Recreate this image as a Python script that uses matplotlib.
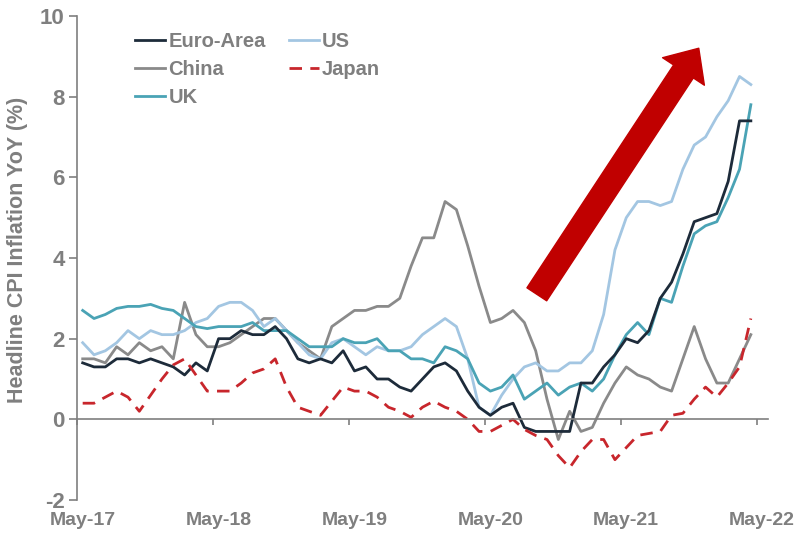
import matplotlib.pyplot as plt
from matplotlib.patches import FancyArrowPatch
from matplotlib.transforms import ScaledTranslation

plt.rcParams["font.family"] = ["Liberation Sans", "DejaVu Sans"]
plt.rcParams["font.weight"] = "bold"
plt.rcParams["axes.unicode_minus"] = False

# monthly headline CPI, YoY %, May-17 .. Apr-22
months = list(range(60))
year_labels = ["May-17", "May-18", "May-19", "May-20", "May-21", "May-22"]

euro_area = [1.4, 1.3, 1.3, 1.5, 1.5, 1.4, 1.5, 1.4, 1.3, 1.1, 1.4, 1.2,
             2.0, 2.0, 2.2, 2.1, 2.1, 2.3, 2.0, 1.5, 1.4, 1.5, 1.4, 1.7,
             1.2, 1.3, 1.0, 1.0, 0.8, 0.7, 1.0, 1.3, 1.4, 1.2, 0.7, 0.3,
             0.1, 0.3, 0.4, -0.2, -0.3, -0.3, -0.3, -0.3, 0.9, 0.9, 1.3, 1.6,
             2.0, 1.9, 2.2, 3.0, 3.4, 4.1, 4.9, 5.0, 5.1, 5.9, 7.4, 7.4]
us = [1.9, 1.6, 1.7, 1.9, 2.2, 2.0, 2.2, 2.1, 2.1, 2.2, 2.4, 2.5,
      2.8, 2.9, 2.9, 2.7, 2.3, 2.5, 2.2, 1.9, 1.6, 1.5, 1.9, 2.0,
      1.8, 1.6, 1.8, 1.7, 1.7, 1.8, 2.1, 2.3, 2.5, 2.3, 1.5, 0.3,
      0.1, 0.6, 1.0, 1.3, 1.4, 1.2, 1.2, 1.4, 1.4, 1.7, 2.6, 4.2,
      5.0, 5.4, 5.4, 5.3, 5.4, 6.2, 6.8, 7.0, 7.5, 7.9, 8.5, 8.3]
china = [1.5, 1.5, 1.4, 1.8, 1.6, 1.9, 1.7, 1.8, 1.5, 2.9, 2.1, 1.8,
         1.8, 1.9, 2.1, 2.3, 2.5, 2.5, 2.2, 1.9, 1.7, 1.5, 2.3, 2.5,
         2.7, 2.7, 2.8, 2.8, 3.0, 3.8, 4.5, 4.5, 5.4, 5.2, 4.3, 3.3,
         2.4, 2.5, 2.7, 2.4, 1.7, 0.5, -0.5, 0.2, -0.3, -0.2, 0.4, 0.9,
         1.3, 1.1, 1.0, 0.8, 0.7, 1.5, 2.3, 1.5, 0.9, 0.9, 1.5, 2.1]
japan = [0.4, 0.4, 0.55, 0.7, 0.55, 0.2, 0.6, 1.0, 1.35, 1.5, 1.1, 0.7,
         0.7, 0.7, 0.9, 1.15, 1.25, 1.5, 0.8, 0.3, 0.2, 0.1, 0.45, 0.8,
         0.7, 0.7, 0.55, 0.3, 0.2, 0.05, 0.3, 0.45, 0.3, 0.2, 0.0, -0.3,
         -0.3, -0.15, 0.0, -0.25, -0.4, -0.5, -0.9, -1.2, -0.8, -0.5, -0.5, -1.0,
         -0.7, -0.4, -0.35, -0.3, 0.1, 0.15, 0.5, 0.8, 0.55, 0.9, 1.3, 2.5]
uk = [2.7, 2.5, 2.6, 2.75, 2.8, 2.8, 2.85, 2.75, 2.7, 2.5, 2.3, 2.25,
      2.3, 2.3, 2.3, 2.4, 2.2, 2.2, 2.2, 2.0, 1.8, 1.8, 1.8, 2.0,
      1.9, 1.9, 2.0, 1.7, 1.7, 1.5, 1.5, 1.4, 1.8, 1.7, 1.5, 0.9,
      0.7, 0.8, 1.1, 0.5, 0.7, 0.9, 0.6, 0.8, 0.9, 0.7, 1.0, 1.6,
      2.1, 2.4, 2.1, 3.0, 2.9, 3.8, 4.6, 4.8, 4.9, 5.5, 6.2, 7.8]

grey = "#7f7f7f"

fig = plt.figure(figsize=(7.99, 5.38), dpi=100)
ax = fig.add_axes([0.0964, 0.0706, 0.8646, 0.8997])

lw = 2.0
l_china, = ax.plot(months, china, color="#8a8a8a", lw=lw, label="China")
l_us, = ax.plot(months, us, color="#a3c6e2", lw=lw, label="US")
l_uk, = ax.plot(months, uk, color="#4aa3b5", lw=lw, label="UK")
l_euro, = ax.plot(months, euro_area, color="#1d2b3a", lw=lw, label="Euro-Area")
l_japan, = ax.plot(months, japan, color="#c8262c", lw=lw,
                   dashes=(4.5, 3), label="Japan")

ax.set_xlim(-0.5, 60.5)
ax.set_ylim(-2, 10)
ax.set_yticks([-2, 0, 2, 4, 6, 8, 10])
ax.set_xticks([12 * k - 0.5 for k in range(len(year_labels))])
ax.set_xticklabels(year_labels)

for side in ["top", "right"]:
    ax.spines[side].set_visible(False)
ax.spines["bottom"].set_position(("data", 0))
for side in ["left", "bottom"]:
    ax.spines[side].set_color(grey)
    ax.spines[side].set_linewidth(1.2)

ax.tick_params(axis="y", colors=grey, labelsize=16, length=6, width=1.2, pad=3)
ax.tick_params(axis="x", colors=grey, labelsize=14, length=4, width=1.2, pad=63)
shift = ScaledTranslation(4 / 72, 0, fig.dpi_scale_trans)
for lab in ax.get_xticklabels():
    lab.set_transform(lab.get_transform() + shift)

fig.text(0.0225, 0.535, "Headline CPI Inflation YoY (%)", rotation=90,
         ha="center", va="center", color=grey, fontsize=15.5)

ax.legend([l_euro, l_china, l_uk, l_us, l_japan],
          ["Euro-Area", "China", "UK", "US", "Japan"],
          ncol=2, loc="upper left", bbox_to_anchor=(0.169, 0.94),
          bbox_transform=fig.transFigure, frameon=False, fontsize=14.5,
          labelcolor=grey, handlelength=1.5, handletextpad=0.15,
          columnspacing=1.15, labelspacing=0.45, borderpad=0, borderaxespad=0)

# big red arrow showing the inflation surge
arrow = FancyArrowPatch((40.1, 3.1), (54.4, 9.2),
                        arrowstyle="simple,head_length=20,head_width=36,tail_width=17",
                        color="#c00000", shrinkA=0, shrinkB=0, zorder=5)
ax.add_patch(arrow)

fig.savefig("out.png", dpi=100)
